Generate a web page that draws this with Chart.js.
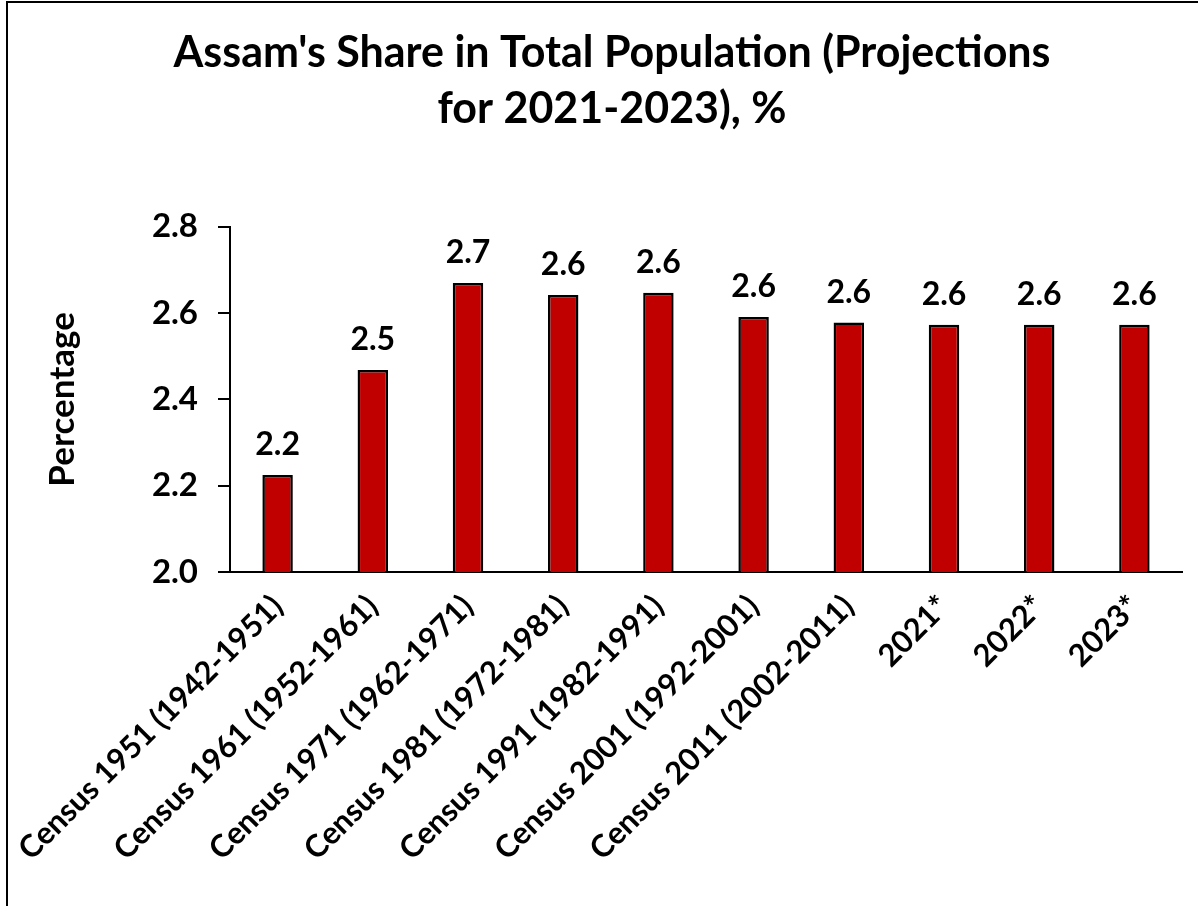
<!DOCTYPE html>
<html>
<head>
<meta charset="utf-8">
<script src="https://cdn.jsdelivr.net/npm/chart.js@4/dist/chart.umd.min.js"></script>
<style>
  html, body { margin: 0; padding: 0; background: #fff; }
  #wrap { position: relative; width: 1198px; height: 906px; }
  #frame { position: absolute; left: 6px; top: 1px; right: 0; bottom: 0;
           border-left: 2px solid #000; border-top: 2px solid #000; pointer-events: none; }
  canvas { display: block; }
</style>
</head>
<body>
<div id="wrap">
  <canvas id="chart" width="1198" height="906"></canvas>
  <div id="frame"></div>
</div>
<script>
// categories and values
const categories = [
  'Census 1951 (1942-1951)',
  'Census 1961 (1952-1961)',
  'Census 1971 (1962-1971)',
  'Census 1981 (1972-1981)',
  'Census 1991 (1982-1991)',
  'Census 2001 (1992-2001)',
  'Census 2011 (2002-2011)',
  '2021*',
  '2022*',
  '2023*'
];
const shareValues = [2.225, 2.468, 2.67, 2.642, 2.647, 2.591, 2.578, 2.573, 2.573, 2.573];
const yTicks = [2.0, 2.2, 2.4, 2.6, 2.8];

const FONT = "Lato, 'Open Sans', sans-serif";
const BAR_RED = '#C00000';

// value labels above each bar
const barLabels = {
    id: 'barLabels',
    afterDatasetsDraw(chart) {
        const ctx = chart.ctx;
        const meta = chart.getDatasetMeta(0);
        ctx.save();
        ctx.font = `bold 32px ${FONT}`;
        ctx.fillStyle = '#000';
        ctx.textAlign = 'center';
        ctx.textBaseline = 'alphabetic';
        meta.data.forEach((bar, i) => {
            ctx.fillText(shareValues[i].toFixed(1), bar.x, bar.y - 20);
        });
        ctx.restore();
    }
};

new Chart(document.getElementById('chart'), {
    type: 'bar',
    data: {
        labels: categories,
        datasets: [{
            data: shareValues,
            backgroundColor: BAR_RED,
            borderColor: '#000',
            borderWidth: 2.5,
            borderSkipped: false,
            barPercentage: 0.32,
            categoryPercentage: 1.0
        }]
    },
    options: {
        responsive: false,
        animation: false,
        devicePixelRatio: 1,
        layout: { padding: { left: 42, right: 16, top: 25, bottom: 0 } },
        plugins: {
            legend: { display: false },
            tooltip: { enabled: false },
            title: {
                display: true,
                text: ["Assam's Share in Total Population (Projections", 'for 2021-2023), %'],
                color: '#000',
                font: { family: FONT, size: 43, weight: 'bold', lineHeight: 1.3 },
                padding: { top: 0, bottom: 90 }
            }
        },
        scales: {
            y: {
                min: 2.0,
                max: 2.8,
                afterBuildTicks: (scale) => { scale.ticks = yTicks.map(v => ({ value: v })); },
                afterFit: (scale) => { scale.width = 188; },
                ticks: {
                    color: '#000',
                    padding: 20,
                    font: { family: FONT, size: 33, weight: 'bold' },
                    callback: (v) => Number(v).toFixed(1)
                },
                grid: { drawOnChartArea: false, drawTicks: true, tickLength: 12, color: '#000', lineWidth: 2 },
                border: { color: '#000', width: 2 },
                title: {
                    display: true,
                    text: 'Percentage',
                    color: '#000',
                    font: { family: FONT, size: 35, weight: 'bold' },
                    padding: { top: 0, bottom: 0 }
                }
            },
            x: {
                afterFit: (scale) => {
                    scale.height = 334;
                    // keep the long rotated first label from pushing the plot right
                    scale.paddingLeft = 0;
                    scale.paddingRight = 0;
                },
                ticks: {
                    color: '#000',
                    maxRotation: 45,
                    minRotation: 45,
                    padding: 16,
                    autoSkip: false,
                    font: { family: FONT, size: 31, weight: 'bold' }
                },
                grid: { display: false, drawTicks: false },
                border: { color: '#000', width: 2 }
            }
        }
    },
    plugins: [barLabels]
});
</script>
</body>
</html>
